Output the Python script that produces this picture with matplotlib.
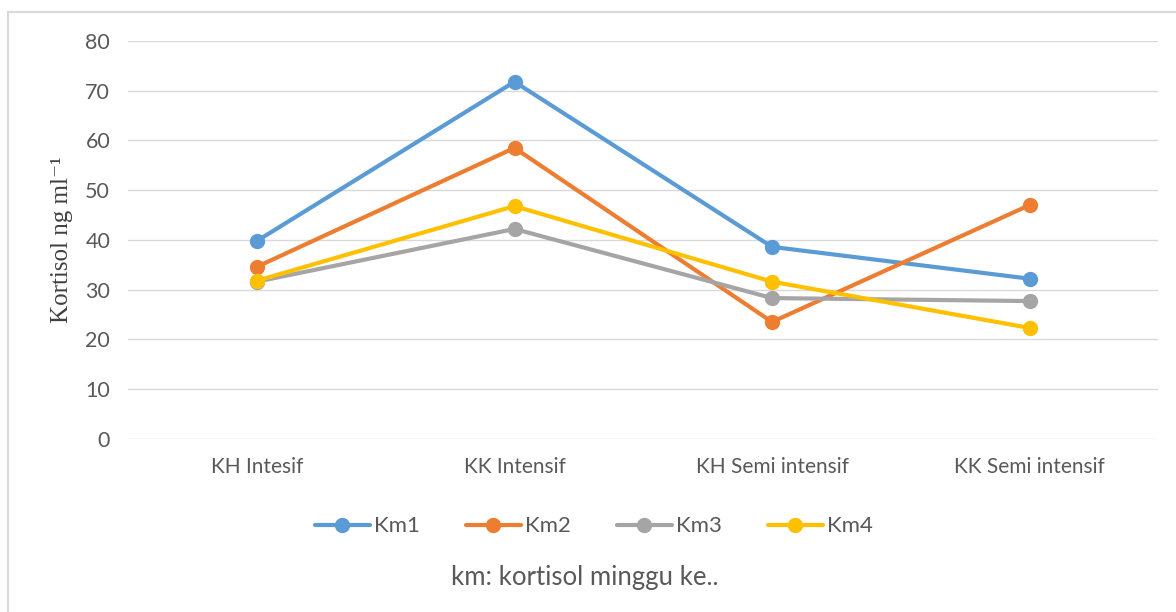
import matplotlib.pyplot as plt
from matplotlib.patches import Rectangle

categories = ['KH Intesif', 'KK Intensif', 'KH Semi intensif', 'KK Semi intensif']
km1 = [39.8, 71.8, 38.6, 32.2]
km2 = [34.6, 58.5, 23.5, 47.0]
km3 = [31.6, 42.2, 28.3, 27.7]
km4 = [31.8, 46.8, 31.6, 22.3]
series_names = ['Km1', 'Km2', 'Km3', 'Km4']
colors = ['#5B9BD5', '#ED7D31', '#A5A5A5', '#FFC000']

plt.rcParams['font.family'] = ['Lato', 'DejaVu Sans']

fig = plt.figure(figsize=(11.76, 6.12), dpi=100)
ax = fig.add_axes([0.109, 0.283, 0.876, 0.65])

x = range(len(categories))
for vals, name, c in zip([km1, km2, km3, km4], series_names, colors):
    ax.plot(x, vals, color=c, linewidth=3, marker='o', markersize=10,
            label=name, solid_capstyle='round')

ax.set_xlim(-0.5, 3.5)
ax.set_ylim(0, 80)
ax.set_yticks(range(0, 81, 10))
ax.set_xticks(list(x))
ax.set_xticklabels(categories)
ax.tick_params(axis='both', length=0, colors='#595959')
ax.tick_params(axis='y', labelsize=15.5, pad=13)
ax.tick_params(axis='x', labelsize=15, pad=13)
ax.grid(axis='y', color='#D9D9D9', linewidth=1)
ax.set_axisbelow(True)
for s in ax.spines.values():
    s.set_visible(False)

ax.set_ylabel('Kortisol ng ml\u207b\u00b9', family=['Liberation Serif', 'DejaVu Serif'],
              fontsize=18, color='#404040', labelpad=9)

ax.legend(loc='center', bbox_to_anchor=(0.452, -0.22), ncol=4, frameon=False,
          fontsize=16, handlelength=2.5, handletextpad=0.18, columnspacing=2.05,
          labelcolor='#595959')

fig.text(0.497, 0.057, 'km: kortisol minggu ke..', ha='center', va='center',
         fontsize=18.5, color='#595959')

fig.patches.append(Rectangle((0.007, -0.1), 1.2, 1.08, transform=fig.transFigure,
                             fill=False, edgecolor='#D9D9D9', linewidth=1.5))

fig.savefig('out.png', dpi=100)
